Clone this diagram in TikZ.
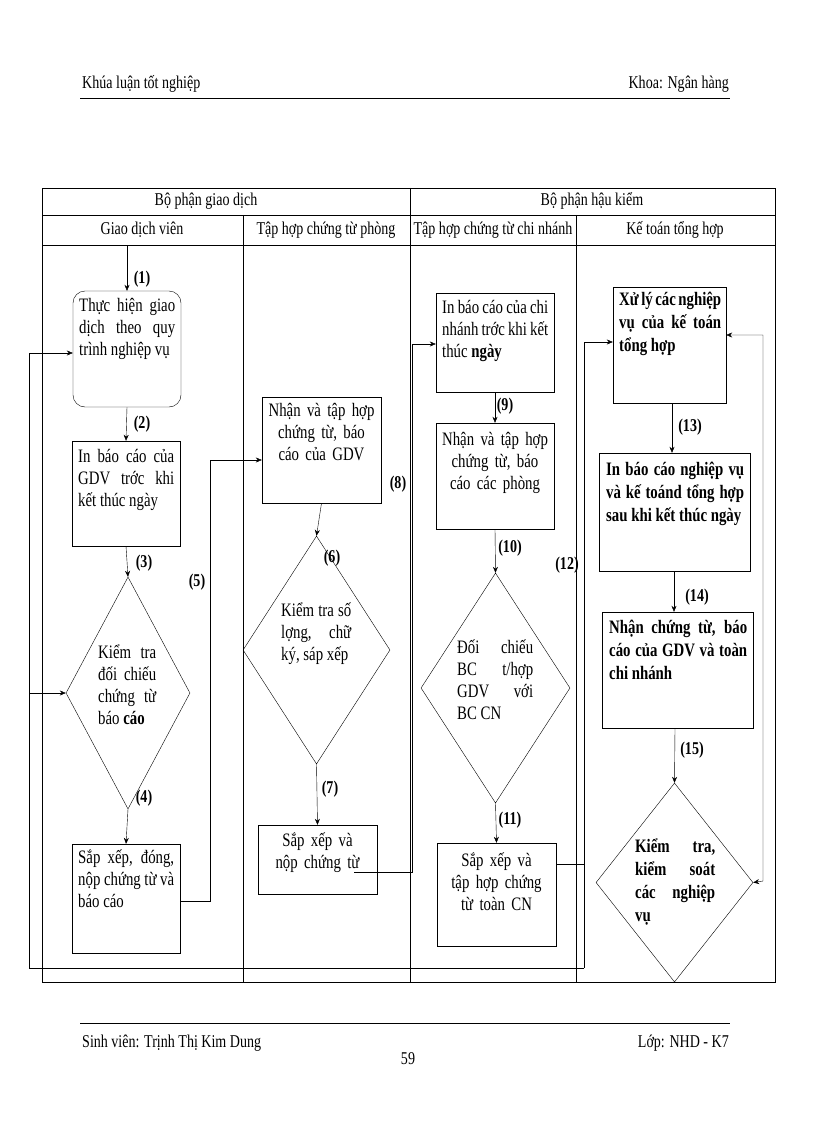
\documentclass[tikz,border=0pt]{standalone}
\usepackage{fontspec}
\setmainfont[FakeStretch=0.78]{Liberation Serif}
\usetikzlibrary{arrows.meta,shapes.geometric}
\begin{document}
\begin{tikzpicture}[x=1pt,y=-1pt,
  box/.style={draw,inner sep=0},
  dia/.style={draw,diamond,inner sep=0},
  txt/.style={font=\fontsize{19}{22}\selectfont,align=justify,inner sep=0,anchor=north west},
  ctxt/.style={font=\fontsize{19}{22}\selectfont,align=center,inner sep=0,anchor=north},
  btxt/.style={font=\bfseries\fontsize{19}{23}\selectfont,align=justify,inner sep=0,anchor=north west},
  lab/.style={font=\bfseries\fontsize{18}{20}\selectfont,inner sep=0},
  hd/.style={font=\fontsize{18}{20}\selectfont,inner sep=0,text height=12,text depth=4},
  arr/.style={-{Stealth[length=6,width=5]}},
  line/.style={draw,line width=0.6pt}]
\useasboundingbox (0,0) rectangle (816,1123);
% header / footer
\node[hd,anchor=west] (h1) at (82,85) {Khúa luận tốt nghiệp};
\node[hd,anchor=east] (h2) at (729,85) {Khoa: Ngân hàng};
\draw[line width=1pt] (80,99) -- (730,99);
\draw[line width=1pt] (80,1023) -- (730,1023);
\node[hd,anchor=west] (f1) at (82,1043) {Sinh viên: Trịnh Thị Kim Dung};
\node[hd,anchor=east] (f2) at (729,1043) {Lớp: NHD - K7};
\node[hd] (f3) at (408,1060) {59};
% table
\draw[line width=0.8pt] (42,188) rectangle (775,982);
\draw[line width=0.8pt] (42,215) -- (775,215) (42,245) -- (775,245);
\draw (410,188) -- (410,982) (243,215) -- (243,982) (576,215) -- (576,982);
\node[hd] (t1) at (206,202) {Bộ phận giao dịch};
\node[hd] (t2) at (592,202) {Bộ phận hậu kiểm};
\node[hd] (t3) at (142,231) {Giao dịch viên};
\node[hd] (t4) at (326,231) {Tập hợp chứng từ phòng};
\node[hd] (t5) at (493,231) {Tập hợp chứng từ chi nhánh};
\node[hd] (t6) at (675,231) {Kế toán tổng hợp};
% column 1
\node[box,rounded corners=12,minimum width=108,minimum height=116] (b1) at (127,349) {};
\node[txt,text width=96] (b1t) at (79,298) {Thực hiện giao dịch theo quy trình nghiệp vụ};
\node[box,minimum width=108,minimum height=105] (b2) at (126,493.5) {};
\node[txt,text width=96] (b2t) at (78,449) {In báo cáo của GDV trớc khi kết thúc ngày};
\node[dia,minimum width=124,minimum height=232] (d3) at (128,693) {};
\node[txt,text width=58] (d3t) at (98,645) {Kiểm tra đối chiếu chứng từ báo \textbf{cáo}};
\node[box,minimum width=108,minimum height=109] (b4) at (126,898.5) {};
\node[txt,text width=96] (b4t) at (78,850) {Sắp xếp, đóng, nộp chứng từ và báo cáo};
\coordinate (c1) at (127,245);
\draw[arr] (c1) -- (b1.north);
\draw[arr] (b1.south) -- (b2.north);
\draw[arr] (b2.south) -- (d3.north);
\draw[arr] (d3.south) -- (b4.north);
\node[lab] (l1) at (142,279) {(1)};
\node[lab] (l2) at (142,424) {(2)};
\node[lab] (l3) at (144,563) {(3)};
\node[lab] (l4) at (144,798) {(4)};
\node[lab] (l5) at (197,582) {(5)};
% column 2
\node[box,minimum width=119,minimum height=106] (b5) at (321.5,450) {};
\node[ctxt,text width=110] (b5t) at (321.5,403) {Nhận và tập hợp chứng từ, báo cáo của GDV};
\node[dia,minimum width=147,minimum height=228] (d6) at (316.5,650) {};
\node[txt,text width=70] (d6t) at (281,603) {Kiểm tra số lợng, chữ ký, sáp xếp};
\node[box,minimum width=119,minimum height=69] (b7) at (317.5,859.5) {};
\node[ctxt,text width=110] (b7t) at (317.5,833) {Sắp xếp và nộp chứng từ};
\draw[arr] (b5.south) -- (d6.north);
\draw[arr] (d6.south) -- (b7.north);
\node[lab] (l6) at (332,558) {(6)};
\node[lab] (l7) at (330,789) {(7)};
\node[lab] (l8) at (398,484) {(8)};
% column 3
\node[box,minimum width=118,minimum height=99] (b9) at (495,342.5) {};
\node[txt,text width=106] (b9t) at (442,300) {In báo cáo của chi nhánh trớc khi kết thúc \textbf{ngày}};
\node[box,minimum width=118,minimum height=106] (b10) at (495,476) {};
\node[ctxt,text width=110] (b10t) at (495,432) {Nhận và tập hợp chứng từ, báo cáo các phòng};
\node[dia,minimum width=149,minimum height=230] (d11) at (495.5,688) {};
\node[txt,text width=76] (d11t) at (457,640) {Đối chiếu BC t/hợp GDV với BC CN};
\node[box,minimum width=119,minimum height=103] (b12) at (496.5,894.5) {};
\node[ctxt,text width=116] (b12t) at (496.5,853) {Sắp xếp và tập hợp chứng từ toàn CN};
\draw[arr] (b9.south) -- (b10.north);
\draw[arr] (b10.south) -- (d11.north);
\draw[arr] (d11.south) -- (b12.north);
\node[lab] (l9) at (505,406) {(9)};
\node[lab] (l10) at (510,548) {(10)};
\node[lab] (l11) at (510,820) {(11)};
\node[lab] (l12) at (567,565) {(12)};
% column 4
\node[box,minimum width=113,minimum height=116] (b13) at (669.5,345) {};
\node[btxt,text width=102] (b13t) at (619,292) {Xử lý các nghiệp vụ của kế toán tổng hợp};
\node[box,minimum width=151,minimum height=118] (b14) at (674.5,512) {};
\node[btxt,text width=138] (b14t) at (606,462) {In báo cáo nghiệp vụ và kế toánd tổng hợp sau khi kết thúc ngày};
\node[box,minimum width=151,minimum height=116] (b15) at (677.5,670) {};
\node[btxt,text width=138] (b15t) at (609,620) {Nhận chứng từ, báo cáo của GDV và toàn chi nhánh};
\node[dia,minimum width=157,minimum height=199] (d16) at (674.5,882.5) {};
\node[btxt,text width=80] (d16t) at (635,838) {Kiểm tra, kiểm soát các nghiệp vụ};
\draw[arr] (b13.south -| 672,0) -- (b14.north -| 672,0);
\draw[arr] (b14.south -| 674,0) -- (b15.north -| 674,0);
\draw[arr] (b15.south -| 675,0) -- (d16.north);
\node[lab] (l13) at (690,427) {(13)};
\node[lab] (l14) at (697,597) {(14)};
\node[lab] (l15) at (692,750) {(15)};
% loops
\coordinate (p5a) at (210,901);
\coordinate (p5b) at (210,460);
\draw[arr] (b4.east |- p5a) -- (p5a) -- (p5b) -- (b5.west |- p5b);
\coordinate (p8s) at (354,872);
\coordinate (p8a) at (412,872);
\coordinate (p8b) at (412,344);
\draw[arr] (p8s) -- (p8a) -- (p8b) -- (b9.west |- p8b);
\coordinate (p12a) at (584,864);
\coordinate (p12b) at (584,342);
\coordinate (p12c) at (584,968);
\coordinate (p12d) at (29,968);
\coordinate (p12e) at (29,353);
\coordinate (p12f) at (29,693);
\draw (b12.east |- p12a) -- (p12a);
\draw[arr] (p12c) -- (p12b) -- (b13.west |- p12b);
\draw[arr] (p12c) -- (p12d) -- (p12e) -- (b1.west |- p12e);
\draw[arr] (p12f) -- (d3.west);
\coordinate (pra) at (763,881);
\coordinate (prb) at (763,335);
\draw[{Stealth[length=6,width=5]}-{Stealth[length=6,width=5]}] (d16.east) -- (pra) -- (prb) -- (b13.east |- prb);
\end{tikzpicture}
\end{document}
